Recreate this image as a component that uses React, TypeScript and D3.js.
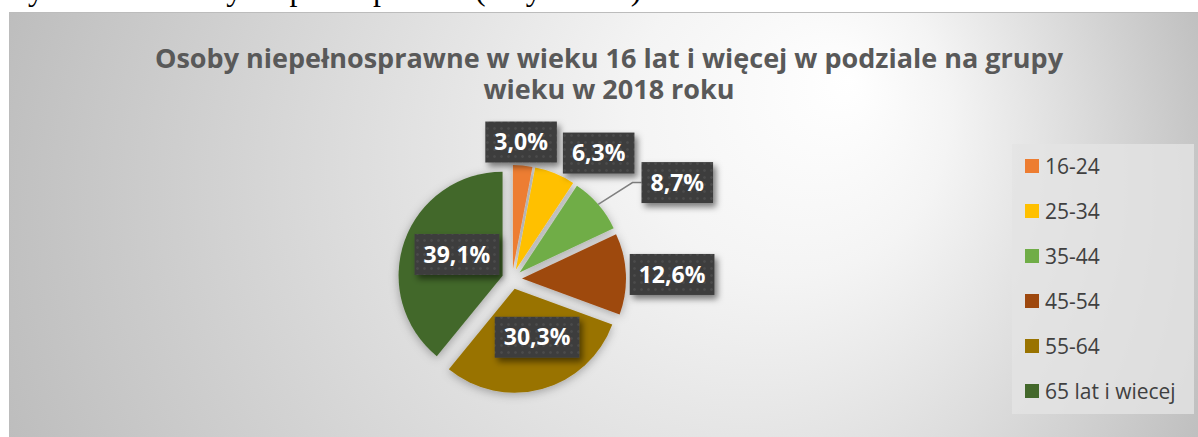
import React, { useEffect, useRef } from "react";
import * as d3 from "d3";

// chart data
const ageGroups = ["16-24", "25-34", "35-44", "45-54", "55-64", "65 lat i wiecej"];
const shares = [3.0, 6.3, 8.7, 12.6, 30.3, 39.1];
const sliceColors = ["#ED7D31", "#FFC000", "#70AD47", "#9E480E", "#997300", "#43682B"];
const titleLines = [
  "Osoby niepełnosprawne w wieku 16 lat i więcej w podziale na grupy",
  "wieku w 2018 roku",
];
const captionText = "Rysunek 1. Osoby niepełnosprawne (w tys. osób)";

export default function App() {
  const svgRef = useRef(null);

  useEffect(() => {
    const svg = d3.select(svgRef.current);
    svg.selectAll("*").remove();

    const defs = svg.append("defs");

    // radial background, light spot up right of the title
    const bg = defs
      .append("radialGradient")
      .attr("id", "bg")
      .attr("gradientUnits", "userSpaceOnUse")
      .attr("cx", 609)
      .attr("cy", 225)
      .attr("r", 640)
      .attr("fx", 850)
      .attr("fy", 80);
    bg.append("stop").attr("offset", 0).attr("stop-color", "#ffffff");
    bg.append("stop").attr("offset", 0.25).attr("stop-color", "#f4f4f4");
    bg.append("stop").attr("offset", 1).attr("stop-color", "#bdbdbd");

    const pieShadow = defs
      .append("filter")
      .attr("id", "pieShadow")
      .attr("x", "-30%")
      .attr("y", "-30%")
      .attr("width", "160%")
      .attr("height", "160%");
    pieShadow
      .append("feDropShadow")
      .attr("dx", 0)
      .attr("dy", 2)
      .attr("stdDeviation", 5)
      .attr("flood-color", "#000")
      .attr("flood-opacity", 0.3);

    const boxShadow = defs
      .append("filter")
      .attr("id", "boxShadow")
      .attr("x", "-30%")
      .attr("y", "-40%")
      .attr("width", "160%")
      .attr("height", "180%");
    boxShadow
      .append("feDropShadow")
      .attr("dx", 3)
      .attr("dy", 4)
      .attr("stdDeviation", 3)
      .attr("flood-color", "#000")
      .attr("flood-opacity", 0.5);

    // dotted dark fill of the data labels
    const dots = defs
      .append("pattern")
      .attr("id", "dots")
      .attr("patternUnits", "userSpaceOnUse")
      .attr("width", 7)
      .attr("height", 7);
    dots.append("rect").attr("width", 7).attr("height", 7).attr("fill", "#3e3e3e");
    dots
      .append("circle")
      .attr("cx", 3.5)
      .attr("cy", 3.5)
      .attr("r", 1.3)
      .attr("fill", "#4c4c4c");

    // caption line of the document, cut off at the top: only descenders show
    svg
      .append("text")
      .attr("x", 8)
      .attr("y", 0)
      .style("font", "32px 'Liberation Serif', serif")
      .attr("fill", "#000")
      .text(captionText);

    // chart frame
    svg
      .append("rect")
      .attr("x", 9.5)
      .attr("y", 12.5)
      .attr("width", 1210)
      .attr("height", 440)
      .attr("fill", "url(#bg)")
      .attr("stroke", "#bcbcbc");

    // title
    svg
      .append("g")
      .attr("text-anchor", "middle")
      .style("font", "700 27px 'Open Sans', sans-serif")
      .attr("fill", "#595959")
      .selectAll("text")
      .data(titleLines)
      .join("text")
      .attr("x", 609)
      .attr("y", (d, i) => 68 + i * 31)
      .text((d) => d);

    // pie
    const cx = 512;
    const cy = 279;
    const radius = 104;
    const explode = 10;

    const arcs = d3
      .pie()
      .sort(null)
      .value((d) => d)(shares);

    const arc = d3.arc().innerRadius(0).outerRadius(radius);
    const mid = (d) => (d.startAngle + d.endAngle) / 2;

    const pieG = svg
      .append("g")
      .attr("transform", `translate(${cx},${cy})`)
      .attr("filter", "url(#pieShadow)");

    pieG
      .selectAll("path")
      .data(arcs)
      .join("path")
      .attr("transform", (d) => {
        const a = mid(d);
        return `translate(${Math.sin(a) * explode},${-Math.cos(a) * explode})`;
      })
      .attr("fill", (d, i) => sliceColors[i])
      .attr("d", arc);

    // label placement: [radius factor, angle nudge in degrees] like Excel's best fit
    const labelPlace = [
      [1.32, -1.6],
      [1.47, 12.4],
      [1.84, 10.6],
      [1.54, 0.9],
      [0.61, -8],
      [0.58, 4.4],
    ];
    const fmt = (v) => d3.format(".1f")(v).replace(".", ",") + "%";

    const labelG = svg.append("g").attr("transform", `translate(${cx},${cy})`);

    arcs.forEach((d, i) => {
      const [rf, nudge] = labelPlace[i];
      const a = mid(d) + (nudge * Math.PI) / 180;
      const lx = Math.sin(a) * radius * rf;
      const ly = -Math.cos(a) * radius * rf;

      const g = labelG.append("g");
      const rect = g.append("rect").attr("fill", "url(#dots)").attr("filter", "url(#boxShadow)");
      const txt = g
        .append("text")
        .attr("text-anchor", "middle")
        .attr("x", lx)
        .attr("y", ly + 8.2)
        .attr("fill", "#ffffff")
        .style("font", "700 23px 'Open Sans', sans-serif")
        .text(fmt(shares[i]));

      const tw = txt.node().getComputedTextLength();
      const bw = tw + 18;
      const bh = 41;
      rect
        .attr("x", lx - bw / 2)
        .attr("y", ly - bh / 2)
        .attr("width", bw)
        .attr("height", bh);

      // leader line when the box sits far from its slice
      if (rf > 1.7) {
        const ma = mid(d);
        const ox = Math.sin(ma) * explode;
        const oy = -Math.cos(ma) * explode;
        const sx = ox + Math.sin(ma) * radius;
        const sy = oy - Math.cos(ma) * radius;
        const left = lx - bw / 2;
        labelG
          .insert("path", ":first-child")
          .attr("d", d3.line()([[sx, sy], [left - 9, ly], [left, ly]]))
          .attr("fill", "none")
          .attr("stroke", "#808080")
          .attr("stroke-width", 1.5);
      }
    });

    // legend
    const legend = svg.append("g");
    legend
      .append("rect")
      .attr("x", 1012)
      .attr("y", 144)
      .attr("width", 182)
      .attr("height", 270)
      .attr("fill", "#e4e4e4")
      .attr("fill-opacity", 0.8);

    const ly = d3.scalePoint().domain(ageGroups).range([166, 391]);
    const item = legend
      .selectAll("g.item")
      .data(ageGroups)
      .join("g")
      .attr("class", "item")
      .attr("transform", (d) => `translate(1025,${ly(d)})`);
    item
      .append("rect")
      .attr("x", 0)
      .attr("y", -7)
      .attr("width", 14)
      .attr("height", 14)
      .attr("fill", (d, i) => sliceColors[i]);
    item
      .append("text")
      .attr("x", 20)
      .attr("y", 7.5)
      .attr("fill", "#404040")
      .style("font", "21px 'Open Sans', sans-serif")
      .text((d) => d);
  }, []);

  return (
    <svg
      ref={svgRef}
      width={1198}
      height={437}
      style={{ position: "absolute", left: 0, top: 0, display: "block" }}
    />
  );
}
